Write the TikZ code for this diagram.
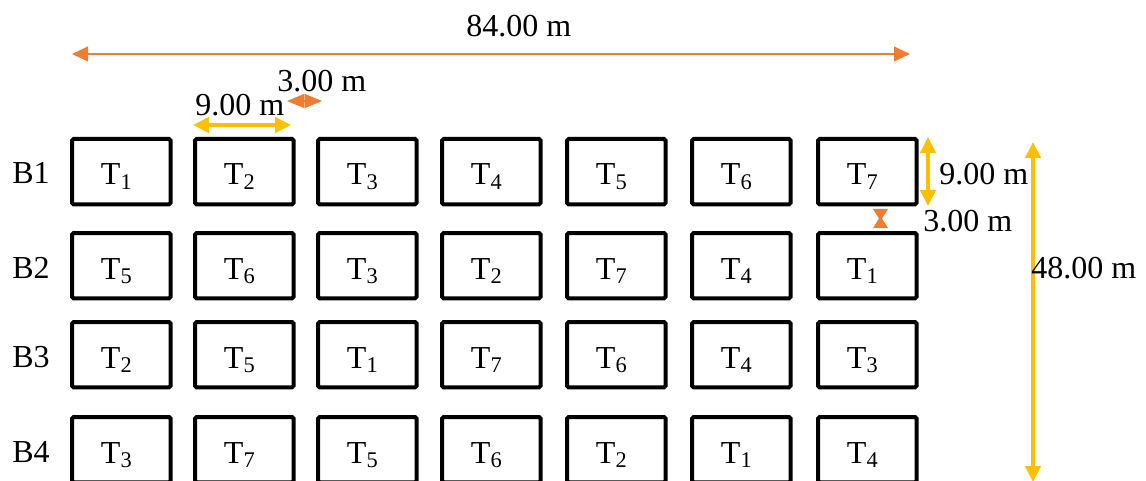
\documentclass[tikz,border=0pt]{standalone}
\usepackage{fontspec}
\setmainfont{Liberation Serif}
\usetikzlibrary{arrows.meta}
\definecolor{offorange}{HTML}{ED7D31}
\definecolor{offgold}{HTML}{FFC000}
\newcommand{\Tl}[1]{T\textsubscript{#1}}
\tikzset{
  tbox/.style={draw=black, line width=3pt, rounded corners=1.2pt, minimum width=74pt, minimum height=49pt, inner sep=0pt, anchor=north west},
  tlab/.style={anchor=base, inner sep=0pt, font=\fontsize{24}{28}\selectfont},
  blab/.style={anchor=base west, inner sep=0pt, font=\fontsize{24}{28}\selectfont},
  dimlab/.style={anchor=base west, inner sep=0pt, font=\fontsize{24}{28}\selectfont},
  orarrow/.style={draw=offorange, line width=1.5pt, {Triangle[length=12pt,width=11pt]}-{Triangle[length=12pt,width=11pt]}},
  ydarrow/.style={draw=offgold, line width=2.6pt, {Triangle[length=12pt,width=11.5pt]}-{Triangle[length=12pt,width=11.5pt]}},
}
\begin{document}
\begin{tikzpicture}[x=0.75pt,y=-0.75pt]
\useasboundingbox (0,0) rectangle (1146,481);
% boxes
\def\cols{70,193,316,440,565,690,816}
\foreach \r/\top/\labs in {1/137/{1,2,3,4,5,6,7},2/231/{5,6,3,2,7,4,1},3/320/{2,5,1,7,6,4,3},4/415/{3,7,5,6,2,1,4}}{
  \node[blab] (B\r) at (12,\top+47) {B\r};
  \foreach \x [count=\c] in \cols {
    \node[tbox] (b\r-\c) at (\x,\top) {};
  }
  \foreach \l [count=\c] in \labs {
    \node[tlab] (t\r-\c) at ([xshift=-3.5pt,yshift=-36pt]b\r-\c.north) {\Tl{\l}};
  }
}
% 84.00 m
\coordinate (a84l) at (72,54);
\coordinate (a84r) at (910,54);
\draw[orarrow] (a84l) -- (a84r);
\node[dimlab] (l84) at (466,37) {84.00 m};
% 3.00 m horizontal
\coordinate (a3l) at (287,101);
\coordinate (a3r) at (322,101);
\draw[draw=offorange, line width=1pt, {Triangle[length=13pt,width=10.5pt]}-{Triangle[length=13pt,width=10.5pt]}] (a3l) -- (a3r);
\node[dimlab] (l3h) at (277,92) {3.00 m};
% 9.00 m horizontal
\coordinate (a9l) at (193,125);
\coordinate (a9r) at (291,125);
\draw[ydarrow] (a9l) -- (a9r);
\node[dimlab] (l9h) at (195,116) {9.00 m};
% 9.00 m vertical
\coordinate (a9t) at (928,137);
\coordinate (a9b) at (928,206);
\draw[ydarrow] (a9t) -- (a9b);
\node[dimlab] (l9v) at (939,185) {9.00 m};
% 3.00 m vertical hourglass
\coordinate (hg) at (880.5,218.5);
\fill[offorange] (873,209) -- (888,209) -- (882,218.5) -- (888,228) -- (873,228) -- (879,218.5) -- cycle;
\node[dimlab] (l3v) at (923,232) {3.00 m};
% 48.00 m
\coordinate (a48t) at (1033,142);
\coordinate (a48b) at (1033,482);
\draw[ydarrow] (a48t) -- (a48b);
\node[dimlab] (l48) at (1031,278) {48.00 m};
\end{tikzpicture}
\end{document}
